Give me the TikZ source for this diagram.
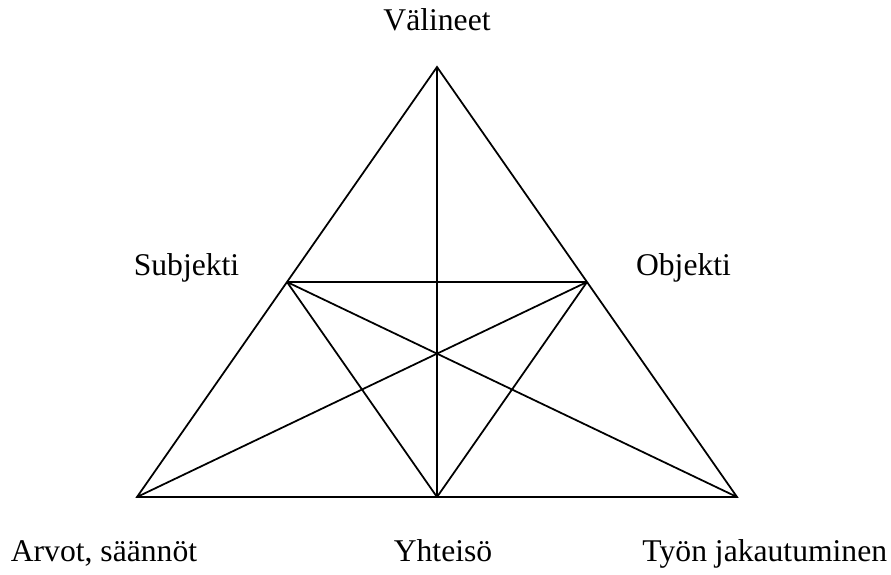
\documentclass[tikz,border=0pt]{standalone}
\usepackage{fontspec}
\setmainfont{Liberation Serif}
\usetikzlibrary{calc}
\begin{document}
\begin{tikzpicture}[line width=1pt,
    lbl/.style={anchor=base,inner sep=0pt,font=\fontsize{18}{22}\selectfont}]
    \useasboundingbox (0,0) rectangle (17.82,11.48);
    %% corners and midpoints
    \coordinate (top) at (8.74,10.14);
    \coordinate (left) at (2.74,1.54);
    \coordinate (right) at (14.74,1.54);
    \coordinate (bottom) at ($(left)!0.5!(right)$);
    \coordinate (subj) at ($(left)!0.5!(top)$);
    \coordinate (obj) at ($(right)!0.5!(top)$);
    %% triangle
    \draw (top) -- (left) -- (right) -- cycle;
    \draw (top) -- (bottom);
    \draw (subj) -- (obj);
    \draw (subj) -- (bottom);
    \draw (subj) -- (right);
    \draw (obj) -- (bottom);
    \draw (obj) -- (left);
    %% labels
    \node[lbl] (valineet) at (8.74,10.86) {Välineet};
    \node[lbl] (subjekti) at (3.73,5.98) {Subjekti};
    \node[lbl] (objekti) at (13.67,5.98) {Objekti};
    \node[lbl,anchor=base west] (arvot) at (0.2,0.25) {Arvot, säännöt};
    \node[lbl] (yhteiso) at (8.86,0.25) {Yhteisö};
    \node[lbl,anchor=base east] (tyon) at (17.76,0.25) {Työn jakautuminen};
\end{tikzpicture}
\end{document}
